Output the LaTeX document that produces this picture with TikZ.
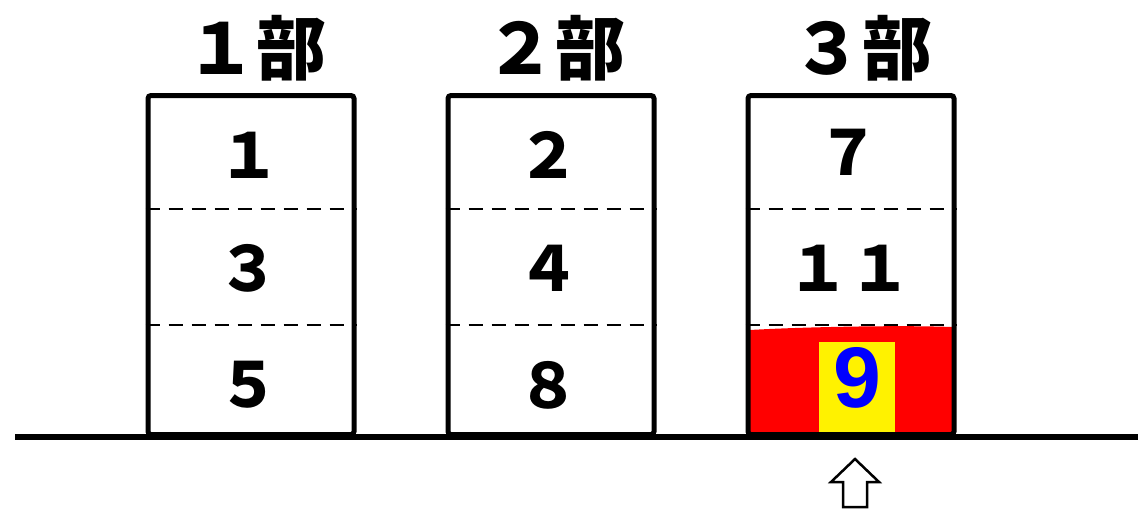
\documentclass[tikz,border=0pt]{standalone}
\usepackage{fontspec}
\newfontfamily\jp{Noto Sans CJK JP}
\newfontfamily\arialb{Liberation Sans}
\begin{document}
\begin{tikzpicture}[x=1pt,y=-1pt,
  box/.style={draw=black,line width=5pt,minimum width=206pt,minimum height=339pt,inner sep=0pt,anchor=south,rounded corners=3pt},
  num/.style={font=\jp\bfseries\fontsize{62}{62}\selectfont,inner sep=0pt},
  ttl/.style={font=\jp\bfseries\fontsize{70}{70}\selectfont,inner sep=0pt},
  sep/.style={dashed,dash pattern=on 14pt off 9pt,line width=2.6pt}]
\useasboundingbox (0,0) rectangle (1138,512);
% red fill
\fill[red] (750,437) -- (750,330) .. controls (800,327) and (900,325) .. (952,327) -- (952,437) -- cycle;
\node[fill=yellow,minimum width=76pt,minimum height=91pt,inner sep=0pt] (yel) at (857,387) {};
\node[font=\arialb\bfseries\fontsize{86}{86}\selectfont,text=blue,inner sep=0pt] (n9) at (857,378) {9};
% boxes
\node[box] (b1) at (251,437) {};
\node[box] (b2) at (551,437) {};
\node[box] (b3) at (851,437) {};
% dashed separators
\foreach \b in {b1,b2,b3}{
  \draw[sep] ([yshift=-116pt]\b.north west) -- ([yshift=-116pt]\b.north east);
  \draw[sep] ([yshift=-232pt]\b.north west) -- ([yshift=-232pt]\b.north east);
}
% baseline
\coordinate (gl) at (15,437);
\coordinate (gr) at (1138,437);
\draw[line width=6pt] (gl) -- (gr);
% titles
\node[ttl] (t1) at (256,48) {１部};
\node[ttl] (t2) at (555,48) {２部};
\node[ttl] (t3) at (862,48) {３部};
% numbers
\node[num] (n1) at (249,155) {１};
\node[num] (n3) at (248,268) {３};
\node[num] (n5) at (248,385) {５};
\node[num] (n2) at (548,155) {２};
\node[num] (n4) at (548,268) {４};
\node[num] (n8) at (548,385) {８};
\node[num] (n7) at (848,152) {７};
\node[num] (n11) at (849,268) {１１};
% arrow
\draw[line width=2.5pt,fill=white,line join=miter] (855,459) -- (879,482) -- (867,482) -- (867,507) -- (843,507) -- (843,482) -- (831,482) -- cycle;
\end{tikzpicture}
\end{document}
